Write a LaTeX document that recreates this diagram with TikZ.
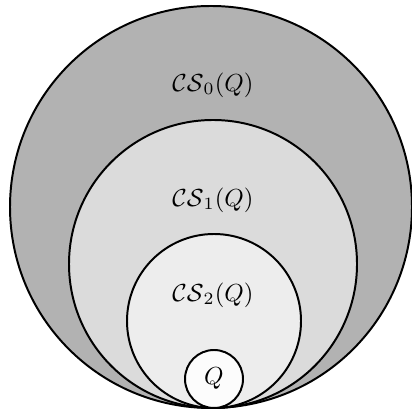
\documentclass[tikz,border=0pt]{standalone}
\usepackage{amsmath,amssymb}
\usepackage{tikz}

\begin{document}
\begin{tikzpicture}[
  x=0.405pt, y=0.405pt,
  ring/.style={draw=black, line width=0.8pt},
  lbl/.style={inner sep=1pt}
]
\useasboundingbox (0,0) rectangle (411,414);
% nested sets, all touching at the bottom
\filldraw[ring, fill=black!30] (211,207) circle[radius=201];
\filldraw[ring, fill=black!14] (213,150) circle[radius=144];
\filldraw[ring, fill=black!7] (214,93) circle[radius=87];
\filldraw[ring, fill=black!1] (214,35) circle[radius=29];

\node[lbl] (cs0) at (213,329) {$\mathcal{CS}_0(Q)$};
\node[lbl] (cs1) at (213,214) {$\mathcal{CS}_1(Q)$};
\node[lbl] (cs2) at (213,119) {$\mathcal{CS}_2(Q)$};
\node[lbl] (q) at (214,36) {$Q$};
\end{tikzpicture}
\end{document}
